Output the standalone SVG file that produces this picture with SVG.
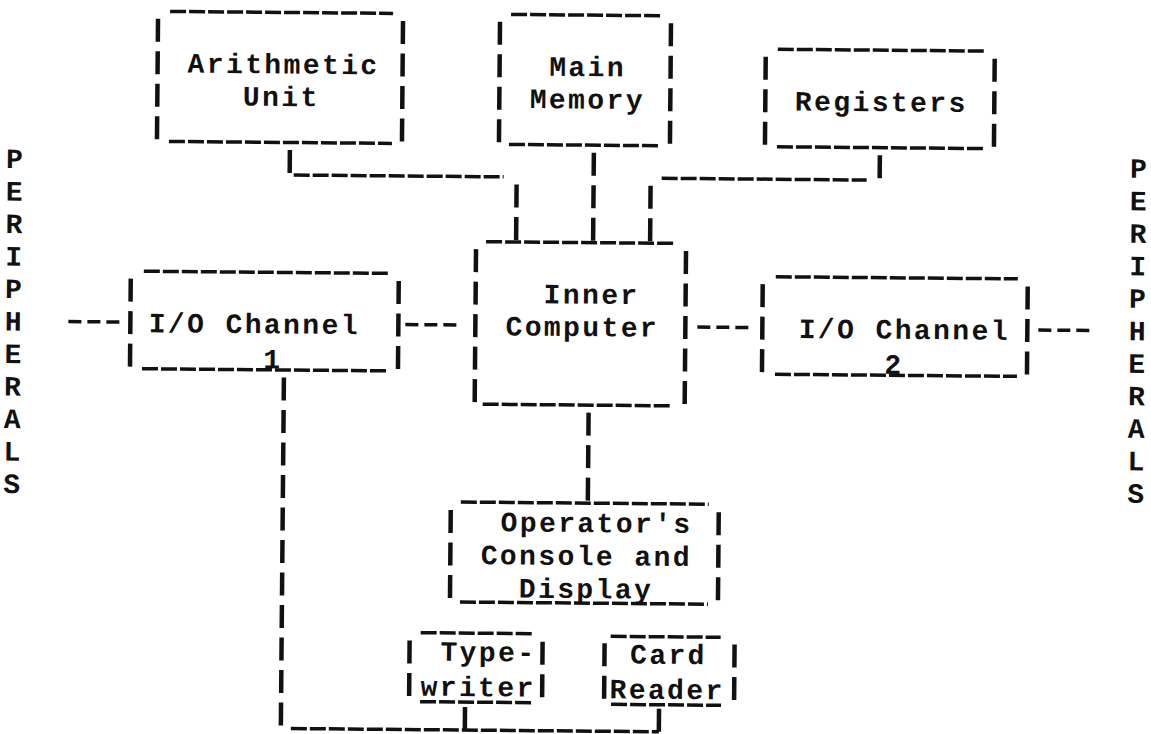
<svg xmlns="http://www.w3.org/2000/svg" width="1151" height="734" viewBox="0 0 1151 734">
<style>
.u{stroke:#111;stroke-width:3.5;stroke-dasharray:16 3;fill:none}
.b{stroke:#111;stroke-width:4.5;stroke-dasharray:23 9.5;fill:none}
.h{stroke:#111;stroke-width:3.5;stroke-dasharray:13 6;fill:none}
text{font-family:"Liberation Mono","Courier New",monospace;font-size:28px;letter-spacing:2.4px;font-weight:bold;fill:#111;text-anchor:middle}
</style>
<rect width="1151" height="734" fill="#fff"/>
<g transform="rotate(0.5 575 367)">
<g id="peripherals-left">
<text><tspan x="14" y="173">P</tspan><tspan x="14" y="205.5">E</tspan><tspan x="14" y="238">R</tspan><tspan x="14" y="270.5">I</tspan><tspan x="14" y="303">P</tspan><tspan x="14" y="335.5">H</tspan><tspan x="14" y="368">E</tspan><tspan x="14" y="400.5">R</tspan><tspan x="14" y="433">A</tspan><tspan x="14" y="465.5">L</tspan><tspan x="14" y="498">S</tspan></text>
</g>
<g id="peripherals-right">
<text><tspan x="1138" y="173">P</tspan><tspan x="1138" y="205.5">E</tspan><tspan x="1138" y="238">R</tspan><tspan x="1138" y="270.5">I</tspan><tspan x="1138" y="303">P</tspan><tspan x="1138" y="335.5">H</tspan><tspan x="1138" y="368">E</tspan><tspan x="1138" y="400.5">R</tspan><tspan x="1138" y="433">A</tspan><tspan x="1138" y="465.5">L</tspan><tspan x="1138" y="498">S</tspan></text>
</g>
<g id="arithmetic-unit">
<line class="u" x1="167" y1="15" x2="390" y2="15"/>
<line class="u" x1="167" y1="145" x2="390" y2="145"/>
<line class="b" x1="155" y1="22.5" x2="155" y2="145"/>
<line class="b" x1="400" y1="22.5" x2="400" y2="145"/>
<text x="281" y="76">Arithmetic</text>
<text x="279" y="108.5">Unit</text>
</g>
<g id="main-memory">
<line class="u" x1="508" y1="15" x2="658" y2="15"/>
<line class="u" x1="507" y1="145" x2="658" y2="145"/>
<line class="b" x1="497" y1="22.5" x2="497" y2="145"/>
<line class="b" x1="668" y1="22.5" x2="668" y2="145"/>
<text x="585" y="76">Main</text>
<text x="585" y="108.5">Memory</text>
</g>
<g id="registers">
<line class="u" x1="775" y1="47.5" x2="982" y2="47.5"/>
<line class="u" x1="775" y1="145" x2="982" y2="145"/>
<line class="b" x1="763" y1="55" x2="763" y2="145"/>
<line class="b" x1="992" y1="55" x2="992" y2="145"/>
<text x="879" y="108.5">Registers</text>
</g>
<g id="inner-computer">
<line class="u" x1="485" y1="242.5" x2="673" y2="242.5"/>
<line class="u" x1="483" y1="405" x2="673" y2="405"/>
<line class="b" x1="475" y1="250" x2="475" y2="405"/>
<line class="b" x1="685" y1="250" x2="685" y2="405"/>
<text x="591" y="303.5">Inner</text>
<text x="582" y="336">Computer</text>
</g>
<g id="io-channel-1">
<line class="u" x1="143" y1="275" x2="387" y2="275"/>
<line class="u" x1="142" y1="372.5" x2="387" y2="372.5"/>
<line class="b" x1="130" y1="282.5" x2="130" y2="372.5"/>
<line class="b" x1="398" y1="282.5" x2="398" y2="372.5"/>
<text x="254" y="336">I/O Channel</text>
<text x="273" y="371">1</text>
</g>
<g id="io-channel-2">
<line class="u" x1="775" y1="275" x2="1017" y2="275"/>
<line class="u" x1="775" y1="372.5" x2="1017" y2="372.5"/>
<line class="b" x1="762" y1="282.5" x2="762" y2="372.5"/>
<line class="b" x1="1027" y1="282.5" x2="1027" y2="372.5"/>
<text x="904" y="336">I/O Channel</text>
<text x="894" y="371">2</text>
</g>
<g id="operator-console">
<line class="u" x1="462" y1="503" x2="710" y2="503"/>
<line class="u" x1="462" y1="603" x2="710" y2="603"/>
<line class="b" x1="452" y1="511" x2="452" y2="603"/>
<line class="b" x1="720" y1="511" x2="720" y2="603"/>
<text x="598" y="532">Operator's</text>
<text x="588" y="565">Console and</text>
<text x="588" y="598">Display</text>
</g>
<g id="typewriter">
<line class="u" x1="423" y1="634" x2="537" y2="634"/>
<line class="u" x1="423" y1="703" x2="537" y2="703"/>
<line class="b" x1="412" y1="642" x2="412" y2="703"/>
<line class="b" x1="545" y1="642" x2="545" y2="703"/>
<text x="491" y="662">Type-</text>
<text x="481" y="697">writer</text>
</g>
<g id="card-reader">
<line class="u" x1="613" y1="636" x2="723" y2="636"/>
<line class="u" x1="614" y1="704" x2="724" y2="704"/>
<line class="b" x1="607" y1="643" x2="607" y2="704"/>
<line class="b" x1="737" y1="643" x2="737" y2="704"/>
<text x="671" y="663">Card</text>
<text x="670" y="698">Reader</text>
</g>
<g id="connectors">
<line class="b" x1="288" y1="152.5" x2="288" y2="177.5"/>
<line class="u" x1="292" y1="177.5" x2="502" y2="177.5"/>
<line class="b" x1="592" y1="152.5" x2="592" y2="242.5"/>
<line class="b" x1="878" y1="152.5" x2="878" y2="177.5"/>
<line class="u" x1="660" y1="177.5" x2="865" y2="177.5"/>
<line class="b" x1="515" y1="185" x2="515" y2="242.5"/>
<line class="b" x1="649" y1="185" x2="649" y2="242.5"/>
<line class="h" x1="68" y1="326" x2="123" y2="326"/>
<line class="h" x1="405" y1="326" x2="462" y2="326"/>
<line class="h" x1="697" y1="326" x2="750" y2="326"/>
<line class="h" x1="1038" y1="326" x2="1090" y2="326"/>
<line class="b" x1="589" y1="412.5" x2="589" y2="503"/>
<line class="b" x1="284" y1="380" x2="284" y2="731"/>
<line class="u" x1="294" y1="731" x2="662" y2="731"/>
<line class="b" x1="468" y1="708" x2="468" y2="731"/>
<line class="b" x1="662" y1="708" x2="662" y2="731"/>
</g>
</g>
</svg>
